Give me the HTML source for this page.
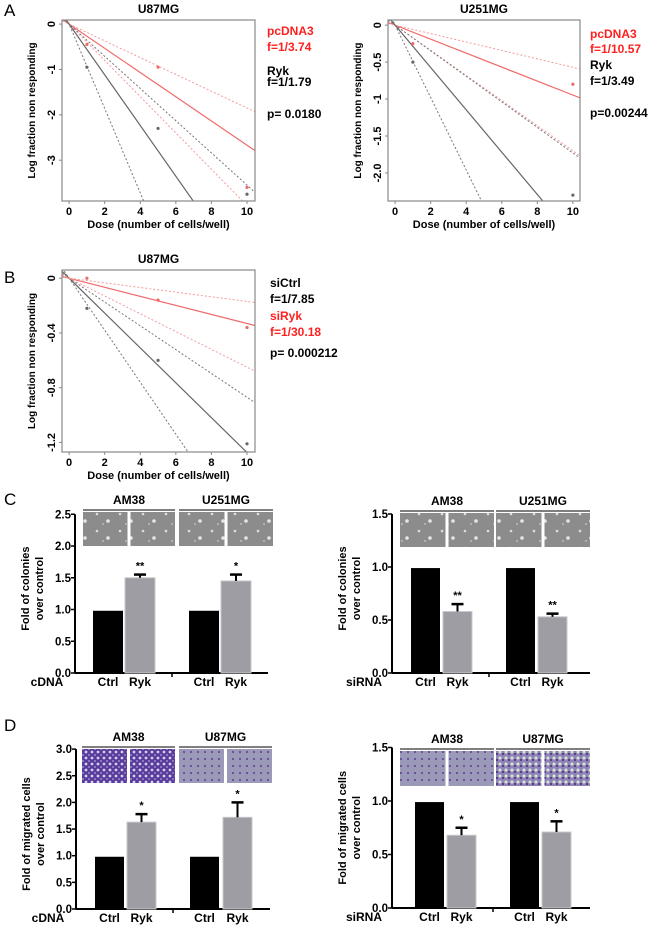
<!DOCTYPE html>
<html><head><meta charset="utf-8">
<style>
html,body{margin:0;padding:0;background:#fff;}
svg text{font-family:"Liberation Sans",sans-serif;}
</style></head>
<body>
<svg id="fig" width="650" height="927" viewBox="0 0 650 927" xmlns="http://www.w3.org/2000/svg">
<defs>
<pattern id="colony" width="23" height="17" patternUnits="userSpaceOnUse">
<rect width="23" height="17" fill="#8c8c8c"/><circle cx="5" cy="4" r="1.3" fill="#ddd"/><circle cx="16" cy="11" r="1.8" fill="#e6e6e6"/><circle cx="11" cy="14" r="0.9" fill="#ccc"/>
</pattern>
<pattern id="migr1" width="6" height="6" patternUnits="userSpaceOnUse">
<rect width="6" height="6" fill="#5a3a9a"/><circle cx="2" cy="2" r="1.4" fill="#cfd0ec"/><circle cx="5" cy="5" r="0.9" fill="#a9a8d8"/>
</pattern>
<pattern id="migr2" width="7" height="7" patternUnits="userSpaceOnUse">
<rect width="7" height="7" fill="#9a9ab8"/><circle cx="2" cy="3" r="1.1" fill="#6a4a9a"/>
</pattern>
<pattern id="migr3" width="6" height="6" patternUnits="userSpaceOnUse">
<rect width="6" height="6" fill="#8e83b8"/><circle cx="2" cy="2" r="1.5" fill="#d8e8d0"/><circle cx="5" cy="4" r="1" fill="#4a2a6a"/>
</pattern>
</defs>
</svg>
<script>
// ===== Panel A left (U87MG) data =====
const aLeftDoses = [1, 5, 10];
const aLeftCtrlPoints = [-0.45, -0.95, -3.6];
const aLeftRykPoints = [-0.95, -2.3, -3.75];
const aLeftCtrlSlopes = [-0.267, -0.185, -0.40]; // estimate, upper, lower
const aLeftRykSlopes = [-0.559, -0.355, -0.93];
const aLeftYTicks = [0, -1, -2, -3];
// ===== Panel A right (U251MG) =====
const aRightDoses = [1, 10];
const aRightCtrlPoints = [-0.25, -0.8];
const aRightRykPoints = [-0.5, -2.3];
const aRightCtrlSlopes = [-0.0946, -0.057, -0.17];
const aRightRykSlopes = [-0.2865, -0.173, -0.49];
const aRightYTicks = [0, -0.5, -1, -1.5, -2.0];
const aRightYTickLabels = ["0", "-0.5", "-1", "-1.5", "-2.0"];
// ===== Panel B (U87MG) =====
const bDoses = [1, 5, 10];
const bCtrlPoints = [-0.22, -0.6, -1.21];
const bRykPoints = [0.0, -0.16, -0.36];
const bCtrlSlopes = [-0.1274, -0.087, -0.19];
const bRykSlopes = [-0.0331, -0.017, -0.065];
const bYTicks = [0, -0.4, -0.8, -1.2];
const xTicksLD = [0, 2, 4, 6, 8, 10];
// ===== Panel C/D bar data =====
const barCategories = ["Ctrl", "Ryk", "Ctrl", "Ryk"];
const cLeftValues = [0.98, 1.5, 0.98, 1.45];
const cLeftErr = [0, 0.05, 0, 0.1];
const cLeftStars = ["", "**", "", "*"];
const cRightValues = [0.99, 0.58, 0.99, 0.53];
const cRightErr = [0, 0.07, 0, 0.03];
const cRightStars = ["", "**", "", "**"];
const dLeftValues = [0.98, 1.63, 0.98, 1.72];
const dLeftErr = [0, 0.15, 0, 0.28];
const dLeftStars = ["", "*", "", "*"];
const dRightValues = [0.99, 0.68, 0.99, 0.71];
const dRightErr = [0, 0.07, 0, 0.1];
const dRightStars = ["", "*", "", "*"];

const svg = document.getElementById('fig');
const NS = 'http://www.w3.org/2000/svg';
function mk(tag, attrs, parent){
  const e = document.createElementNS(NS, tag);
  for (const k in attrs) e.setAttribute(k, attrs[k]);
  (parent||svg).appendChild(e);
  return e;
}
function txt(x,y,s,size,opts,parent){
  opts = opts||{};
  const t = mk('text',{x:x,y:y,'font-size':size,'font-weight':opts.w||'bold',fill:opts.fill||'#000','text-anchor':opts.anchor||'middle'},parent);
  if (opts.rot) t.setAttribute('transform','rotate('+opts.rot+' '+x+' '+y+')');
  t.textContent = s;
  return t;
}
let clipId = 0;
function ldPlot(cfg){
  const g = mk('g',{});
  
  
  const xs = v => cfg.x0 + (v - cfg.xd[0]) / (cfg.xd[1]-cfg.xd[0]) * (cfg.x1-cfg.x0);
  const ys = v => cfg.y0 + (cfg.yd[1] - v) / (cfg.yd[1]-cfg.yd[0]) * (cfg.y1-cfg.y0);
  const cid = 'clip'+(clipId++);
  const cp = mk('clipPath',{id:cid},g); mk('rect',{x:cfg.x0,y:cfg.y0,width:cfg.x1-cfg.x0,height:cfg.y1-cfg.y0},cp);
  const inner = mk('g',{'clip-path':'url(#'+cid+')'},g);
  function lines(slopes,color,dcolor,nm){
    slopes.forEach((s,i)=>{
      const l = mk('line',{x1:xs(cfg.xd[0]),y1:ys(s*cfg.xd[0]),x2:xs(cfg.xd[1]),y2:ys(s*cfg.xd[1]),stroke:i===0?color:dcolor,'stroke-width':i===0?1.2:1,'stroke-dasharray':i===0?'none':'2,2'},inner);
      
      
    });
  }
  lines(cfg.ctrlSlopes, cfg.ctrlColor, cfg.ctrlDash, cfg.ctrlName);
  lines(cfg.rykSlopes, cfg.rykColor, cfg.rykDash, cfg.rykName);
  function pts(vals,color,nm){
    vals.forEach((v,i)=>{
      const c = mk('circle',{cx:xs(cfg.doses[i]),cy:ys(v),r:1.6,fill:color},inner);
      
      
    });
  }
  pts(cfg.ctrlPts, cfg.ctrlColor, cfg.ctrlName);
  pts(cfg.rykPts, cfg.rykColor, cfg.rykName);
  const box = mk('rect',{x:cfg.x0,y:cfg.y0,width:cfg.x1-cfg.x0,height:cfg.y1-cfg.y0,fill:'none',stroke:'#888','stroke-width':1.2},g);
  
  
  xTicksLD.forEach(v=>{
    if (cfg.noX) return;
    mk('line',{x1:xs(v),y1:cfg.y1,x2:xs(v),y2:cfg.y1+3,stroke:'#888'},g);
    const t = txt(xs(v),cfg.y1+14,String(v),11,{},g);
    
    
  });
  cfg.yTicks.forEach((v,i)=>{
    mk('line',{x1:cfg.x0-3,y1:ys(v),x2:cfg.x0,y2:ys(v),stroke:'#888'},g);
    const t = txt(cfg.x0-7,ys(v),cfg.yLabels?cfg.yLabels[i]:String(v),11,{rot:-90},g);
    
    
  });
  const tt = txt((cfg.x0+cfg.x1)/2, cfg.y0-7, cfg.title, 12, {}, g);
  
  
  if (!cfg.noX){
    const xl = txt((cfg.x0+cfg.x1)/2, cfg.y1+27, 'Dose (number of cells/well)', 11, {}, g);
    
    
  }
  const yl = txt(cfg.x0-27,(cfg.y0+cfg.y1)/2,'Log fraction non responding',10,{rot:-90},g);
  
  
  cfg.legend.forEach(L=>{
    const t = txt(cfg.lx, L[1], L[0], 12, {fill:L[2],anchor:'start'}, g);
    
    
  });
}
const RED='#f06a6a', GRAY='#666', REDD='#f59a9a', GRAYD='#777';
ldPlot({name:'ld-plot-a-u87mg',title:'U87MG',x0:62,x1:255,y0:20,y1:201,xd:[-0.4,10.45],yd:[-3.9,0.09],
  doses:aLeftDoses,ctrlPts:aLeftCtrlPoints,rykPts:aLeftRykPoints,ctrlSlopes:aLeftCtrlSlopes,rykSlopes:aLeftRykSlopes,
  ctrlColor:RED,ctrlDash:REDD,rykColor:GRAY,rykDash:GRAYD,ctrlName:'pcdna3',rykName:'ryk',yTicks:aLeftYTicks,lx:267,
  legend:[['pcDNA3',35,'#ff2020'],['f=1/3.74',51,'#ff2020'],['Ryk',75,'#000'],['f=1/1.79',86,'#000'],['p= 0.0180',118,'#000']]});
ldPlot({name:'ld-plot-a-u251mg',title:'U251MG',x0:388,x1:580,y0:20,y1:201,xd:[-0.4,10.4],yd:[-2.38,0.07],
  doses:aRightDoses,ctrlPts:aRightCtrlPoints,rykPts:aRightRykPoints,ctrlSlopes:aRightCtrlSlopes,rykSlopes:aRightRykSlopes,
  ctrlColor:RED,ctrlDash:REDD,rykColor:GRAY,rykDash:GRAYD,ctrlName:'pcdna3',rykName:'ryk',yTicks:aRightYTicks,yLabels:aRightYTickLabels,lx:590,
  legend:[['pcDNA3',38,'#ff2020'],['f=1/10.57',53,'#ff2020'],['Ryk',69,'#000'],['f=1/3.49',85,'#000'],['p=0.00244',117,'#000']]});
ldPlot({name:'ld-plot-b-u87mg',title:'U87MG',x0:62,x1:255,y0:270,y1:452,xd:[-0.4,10.45],yd:[-1.27,0.06],
  doses:bDoses,ctrlPts:bCtrlPoints,rykPts:bRykPoints,ctrlSlopes:bCtrlSlopes,rykSlopes:bRykSlopes,
  ctrlColor:GRAY,ctrlDash:GRAYD,rykColor:RED,rykDash:REDD,ctrlName:'sictrl',rykName:'siryk',yTicks:bYTicks,lx:270,
  legend:[['siCtrl',287,'#000'],['f=1/7.85',303,'#000'],['siRyk',320,'#ff2020'],['f=1/30.18',336,'#ff2020'],['p= 0.000212',357,'#000']]});

function barChart(cfg){
  const g = mk('g',{});
  
  
  const ys = v => cfg.yBase - v*cfg.ppu;
  const top = ys(cfg.ticks[cfg.ticks.length-1]);
  mk('line',{x1:cfg.ax,y1:top,x2:cfg.ax,y2:cfg.yBase,stroke:'#000','stroke-width':2},g);
  mk('line',{x1:cfg.ax,y1:cfg.yBase,x2:cfg.axEnd,y2:cfg.yBase,stroke:'#000','stroke-width':2},g);
  mk('line',{x1:(cfg.bx[1]+cfg.bx[2])/2+cfg.bw/2,y1:cfg.yBase,x2:(cfg.bx[1]+cfg.bx[2])/2+cfg.bw/2,y2:cfg.yBase+4,stroke:'#000','stroke-width':1.5},g);
  cfg.ticks.forEach(v=>{
    mk('line',{x1:cfg.ax-4,y1:ys(v),x2:cfg.ax,y2:ys(v),stroke:'#000','stroke-width':1.5},g);
    const t = txt(cfg.ax-4,ys(v)+4,v.toFixed(1),11.5,{anchor:'end'},g);
    
    
  });
  cfg.values.forEach((v,i)=>{
    const x = cfg.bx[i];
    const r = mk('rect',{x:x,y:ys(v),width:cfg.bw,height:v*cfg.ppu,fill:i%2?'#9d9da3':'#000',stroke:i%2?'#c8c8cc':'none','stroke-width':1},g);
    
    
    if (cfg.err[i]>0){
      const ey = ys(v+cfg.err[i]);
      mk('line',{x1:x+cfg.bw/2,y1:ys(v),x2:x+cfg.bw/2,y2:ey,stroke:'#000','stroke-width':2},g);
      mk('line',{x1:x+cfg.bw/2-6,y1:ey,x2:x+cfg.bw/2+6,y2:ey,stroke:'#000','stroke-width':2.5},g);
    }
    if (cfg.stars[i]){
      const s = txt(x+cfg.bw/2, ys(v+cfg.err[i])-5, cfg.stars[i], 11, {}, g);
      
      
    }
    const c = txt(x+cfg.bw/2, cfg.yBase+13, barCategories[i], 12, {}, g);
    
    
  });
  const lab = txt(cfg.ax-28, cfg.yBase+13, cfg.rowLabel, 12, {}, g);
  
  
  const ymid = (top+cfg.yBase)/2 + cfg.ylOff;
  const y1 = txt(cfg.ax-46, ymid, cfg.yTitle[0], 11, {rot:-90}, g);
  
  
  const y2 = txt(cfg.ax-32, ymid, cfg.yTitle[1], 11, {rot:-90}, g);
  
  
  cfg.groups.forEach((gr,k)=>{
    const h = txt((gr.x0+gr.x1)/2, cfg.hy, gr.name, 12, {}, g);
    
    
    mk('line',{x1:gr.x0,y1:cfg.hy+6,x2:gr.x1,y2:cfg.hy+6,stroke:'#555','stroke-width':1.5},g);
    const w = (gr.x1-gr.x0-3)/2;
    [0,1].forEach(j=>{
      const im = mk('rect',{x:gr.x0+j*(w+3),y:cfg.hy+8,width:w,height:cfg.imgH,fill:cfg.fills[k*2+j]},g);
      
      
    });
  });
}
const colonyFills = ['url(#colony)','url(#colony)','url(#colony)','url(#colony)'];
barChart({name:'colony-bar-chart-cdna',ax:75,axEnd:268,yBase:673,ppu:63.5,ticks:[0,0.5,1,1.5,2,2.5],
  values:cLeftValues,err:cLeftErr,stars:cLeftStars,bx:[93,125,189,221],bw:30,rowLabel:'cDNA',
  yTitle:['Fold of colonies','over control'],ylOff:-5,hy:504,imgH:34,fills:colonyFills,
  groups:[{name:'AM38',x0:83,x1:175},{name:'U251MG',x0:179,x1:273}]});
barChart({name:'colony-bar-chart-sirna',ax:392,axEnd:590,yBase:673,ppu:106,ticks:[0,0.5,1,1.5],
  values:cRightValues,err:cRightErr,stars:cRightStars,bx:[411,443,506,538],bw:29,rowLabel:'siRNA',
  yTitle:['Fold of colonies','over control'],ylOff:-5,hy:505,imgH:34,fills:colonyFills,
  groups:[{name:'AM38',x0:400,x1:494},{name:'U251MG',x0:496,x1:590}]});
barChart({name:'migration-bar-chart-cdna',ax:76,axEnd:270,yBase:909,ppu:53.3,ticks:[0,0.5,1,1.5,2,2.5,3],
  values:dLeftValues,err:dLeftErr,stars:dLeftStars,bx:[95,127,190,223],bw:29,rowLabel:'cDNA',
  yTitle:['Fold of migrated cells','over control'],ylOff:5,hy:741,imgH:34,fills:['url(#migr1)','url(#migr1)','url(#migr2)','url(#migr2)'],
  groups:[{name:'AM38',x0:82,x1:175},{name:'U87MG',x0:179,x1:272}]});
barChart({name:'migration-bar-chart-sirna',ax:392,axEnd:590,yBase:908,ppu:107,ticks:[0,0.5,1,1.5],
  values:dRightValues,err:dRightErr,stars:dRightStars,bx:[415,447,510,542],bw:29,rowLabel:'siRNA',
  yTitle:['Fold of migrated cells','over control'],ylOff:0,hy:743,imgH:35,fills:['url(#migr2)','url(#migr2)','url(#migr3)','url(#migr3)'],
  groups:[{name:'AM38',x0:400,x1:494},{name:'U87MG',x0:496,x1:590}]});

[['A',16],['B',283],['C',505],['D',731]].forEach(p=>{
  const t = txt(4,p[1],p[0],17,{anchor:'start',w:'normal'});
  
  
});
</script>
</body></html>
